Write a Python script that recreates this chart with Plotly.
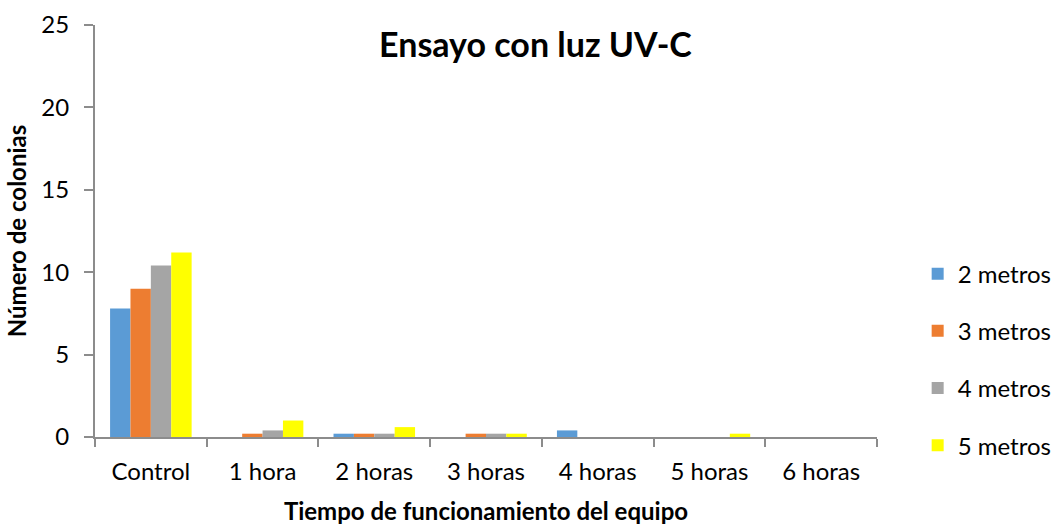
import plotly.graph_objects as go

categories = ["Control", "1 hora", "2 horas", "3 horas", "4 horas", "5 horas", "6 horas"]
series_names = ["2 metros", "3 metros", "4 metros", "5 metros"]
m2 = [7.8, 0.0, 0.2, 0.0, 0.4, 0.0, 0.0]
m3 = [9.0, 0.2, 0.2, 0.2, 0.0, 0.0, 0.0]
m4 = [10.4, 0.4, 0.2, 0.2, 0.0, 0.0, 0.0]
m5 = [11.2, 1.0, 0.6, 0.2, 0.0, 0.2, 0.0]
colors = ["#5B9BD5", "#ED7D31", "#A5A5A5", "#FFFF00"]

FONT = "Lato"
AXIS = "#8C8C8C"

fig = go.Figure()
for i, (name, vals) in enumerate(zip(series_names, [m2, m3, m4, m5])):
    fig.add_trace(go.Bar(
        x=categories, y=vals, name=name,
        marker=dict(color=colors[i], line=dict(width=0)),
        legendgroup=name,
    ))

fig.update_layout(
    width=1054, height=525,
    margin=dict(l=95, r=177, t=25, b=88, autoexpand=False),
    paper_bgcolor="white", plot_bgcolor="white",
    barmode="group", bargap=0.27, bargroupgap=0,
    font=dict(family=FONT, size=24, color="#000000"),
    title=dict(text="<b>Ensayo con luz UV-C</b>", x=0.508, xanchor="center",
               y=0.915, yanchor="middle", font=dict(family=FONT, size=34, color="#000000")),
    legend=dict(x=1.052, xanchor="left", y=0.188, yanchor="middle",
                traceorder="grouped", tracegroupgap=23,
                font=dict(family=FONT, size=24), itemwidth=30),
    showlegend=True,
)
fig.update_xaxes(
    showline=True, linecolor=AXIS, linewidth=2,
    ticks="outside", tickson="boundaries", ticklen=8, tickcolor=AXIS, tickwidth=2,
    ticklabelstandoff=12,
    showgrid=False,
    title=dict(text="<b>Tiempo de funcionamiento del equipo</b>", standoff=20,
               font=dict(family=FONT, size=24)),
)
fig.update_yaxes(
    range=[0, 25], dtick=5,
    showline=True, linecolor=AXIS, linewidth=2,
    ticks="outside", ticklen=9, tickcolor=AXIS, tickwidth=2,
    ticklabelstandoff=10,
    showgrid=False, zeroline=False,
    title=dict(text="<b>Número de colonias</b>", standoff=8,
               font=dict(family=FONT, size=24)),
)

fig.write_html("out.html")
